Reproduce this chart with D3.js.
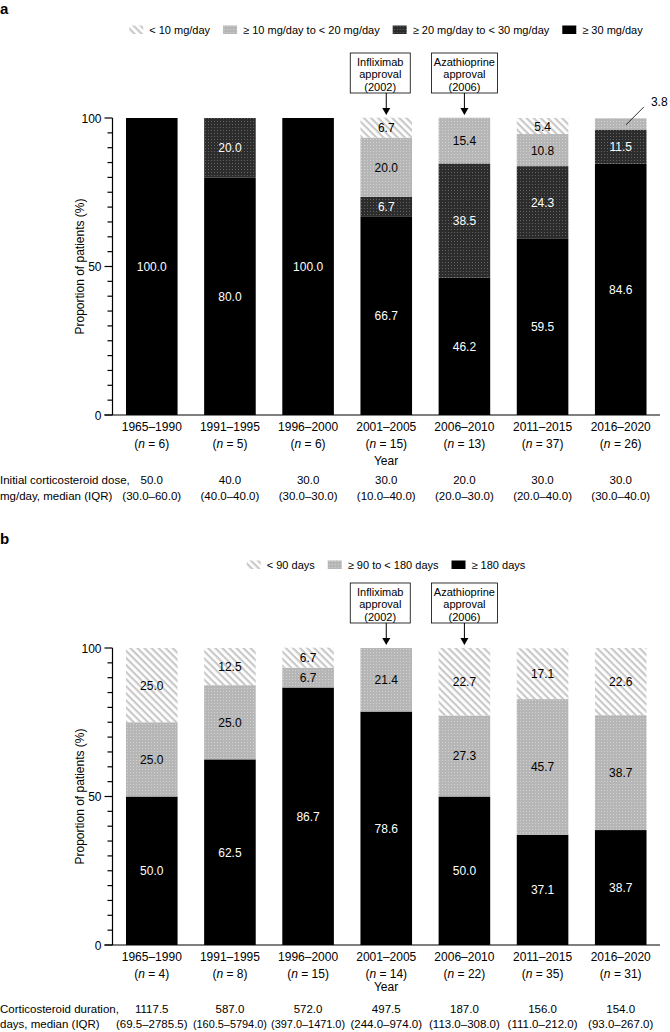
<!DOCTYPE html>
<html><head><meta charset="utf-8">
<script src="https://cdn.jsdelivr.net/npm/d3@7"></script>
<style>
html,body{margin:0;padding:0;background:#fff;}
text{font-family:"Liberation Sans",Arial,sans-serif;}
</style></head>
<body>
<svg id="chart" width="670" height="1032"></svg>
<script>
// ---------- DATA ----------
const periods = ["1965–1990","1991–1995","1996–2000","2001–2005","2006–2010","2011–2015","2016–2020"];

// Panel a
const nA = [6,5,6,15,13,37,26];
const doseLt10   = [0,0,0,6.7,0,5.4,0];
const dose10to20 = [0,0,0,20.0,15.4,10.8,3.8];
const dose20to30 = [0,20.0,0,6.7,38.5,24.3,11.5];
const doseGe30   = [100.0,80.0,100.0,66.7,46.2,59.5,84.6];
const doseSeriesNames = ["≥ 30 mg/day","≥ 20 mg/day to < 30 mg/day","≥ 10 mg/day to < 20 mg/day","< 10 mg/day"];
const doseMedian = ["50.0","40.0","30.0","30.0","20.0","30.0","30.0"];
const doseIQR = ["(30.0–60.0)","(40.0–40.0)","(30.0–30.0)","(10.0–40.0)","(20.0–30.0)","(20.0–40.0)","(30.0–40.0)"];
const doseRowLabel = ["Initial corticosteroid dose,","mg/day, median (IQR)"];

// Panel b
const nB = [4,8,15,14,22,35,31];
const durLt90    = [25.0,12.5,6.7,0,22.7,17.1,22.6];
const dur90to180 = [25.0,25.0,6.7,21.4,27.3,45.7,38.7];
const durGe180   = [50.0,62.5,86.7,78.6,50.0,37.1,38.7];
const durSeriesNames = ["≥ 180 days","≥ 90 to < 180 days","< 90 days"];
const durMedian = ["1117.5","587.0","572.0","497.5","187.0","156.0","154.0"];
const durIQR = ["(69.5–2785.5)","(160.5–5794.0)","(397.0–1471.0)","(244.0–974.0)","(113.0–308.0)","(111.0–212.0)","(93.0–267.0)"];
const durRowLabel = ["Corticosteroid duration,","days, median (IQR)"];

const yTicksMajor = [0,50,100];
const annotations = [
  {period:"2001–2005", lines:["Infliximab","approval","(2002)"]},
  {period:"2006–2010", lines:["Azathioprine","approval","(2006)"]}
];

// ---------- SETUP ----------
const svg = d3.select("#chart");
const defs = svg.append("defs");

function hatch(id){
  const p = defs.append("pattern").attr("id",id).attr("patternUnits","userSpaceOnUse")
    .attr("width",5).attr("height",5).attr("patternTransform","rotate(45)");
  p.append("rect").attr("width",5).attr("height",5).attr("fill","#ffffff");
  p.append("rect").attr("width",5).attr("height",2.2).attr("fill","#c9c9c9");
}
function dots(id,bg,fg){
  const p = defs.append("pattern").attr("id",id).attr("patternUnits","userSpaceOnUse")
    .attr("width",3).attr("height",3);
  p.append("rect").attr("width",3).attr("height",3).attr("fill",bg);
  p.append("rect").attr("x",1).attr("y",1).attr("width",1).attr("height",1).attr("fill",fg);
}
hatch("pHatch");
dots("pLight","#b6b6b6","#d2d2d2");
dots("pDark","#2c2c2c","#626262");

const fills = {hatch:"url(#pHatch)", light:"url(#pLight)", dark:"url(#pDark)", black:"#000"};

const x = d3.scaleBand().domain(periods).range([112.5,660]).paddingInner(0.34).paddingOuter(0.1725);

function fitText(sel, maxW){
  sel.each(function(){
    const w = this.getComputedTextLength();
    if (w > maxW) d3.select(this).attr("textLength",maxW).attr("lengthAdjust","spacingAndGlyphs");
  });
}

function drawPanel(cfg){
  const oy = cfg.oy;
  const g = svg.append("g");
  const y = d3.scaleLinear().domain([0,100]).range([415+oy,118+oy]);

  // panel letter
  g.append("text").attr("x",0).attr("y",14+oy).attr("font-size",15).attr("font-weight","bold").text(cfg.letter);

  // stacked bars
  const rows = periods.map((p,i)=>{ const o={period:p}; cfg.series.forEach(s=>o[s.key]=s.values[i]); return o;});
  const stack = d3.stack().keys(cfg.series.map(s=>s.key))(rows);
  stack.forEach((layer,li)=>{
    const s = cfg.series[li];
    g.append("g").selectAll("rect").data(layer.filter(d=>d[1]-d[0]>0)).join("rect")
      .attr("x",d=>x(d.data.period)).attr("width",x.bandwidth())
      .attr("y",d=>y(d[1])).attr("height",d=>y(d[0])-y(d[1]))
      .attr("fill",fills[s.fill]);
    g.append("g").selectAll("text").data(layer.filter(d=>d[1]-d[0]>=5)).join("text")
      .attr("x",d=>x(d.data.period)+x.bandwidth()/2)
      .attr("y",d=>y((d[0]+d[1])/2)+4.5)
      .attr("text-anchor","middle").attr("font-size",12)
      .attr("fill",s.textColor)
      .text(d=>(d[1]-d[0]).toFixed(1));
  });

  // small outside labels
  (cfg.outside||[]).forEach(o=>{
    const layer = stack[cfg.series.findIndex(s=>s.key===o.key)];
    const d = layer[periods.indexOf(o.period)];
    const cx = x(o.period)+x.bandwidth()*0.6, cy = y((d[0]+d[1])/2);
    g.append("line").attr("x1",cx).attr("y1",cy+1).attr("x2",cx+18).attr("y2",cy-17)
      .attr("stroke","#000").attr("stroke-width",0.8);
    g.append("text").attr("x",cx+25).attr("y",cy-18).attr("font-size",12).text((d[1]-d[0]).toFixed(1));
  });

  // y axis
  const ax = 112.5;
  g.append("line").attr("x1",ax).attr("x2",ax).attr("y1",y(0)).attr("y2",y(100)).attr("stroke","#000").attr("stroke-width",1.2);
  g.append("g").selectAll("line").data(d3.range(0,101,5)).join("line")
    .attr("x1",d=>yTicksMajor.includes(d)?ax-8:ax-5).attr("x2",ax)
    .attr("y1",d=>y(d)).attr("y2",d=>y(d)).attr("stroke","#000").attr("stroke-width",1.2);
  g.append("g").selectAll("text").data(yTicksMajor).join("text")
    .attr("x",ax-11).attr("y",d=>y(d)+4.5).attr("text-anchor","end").attr("font-size",12).text(d=>d);
  g.append("text").attr("transform",`translate(${ax-29},${y(50)}) rotate(-90)`)
    .attr("text-anchor","middle").attr("font-size",12).text("Proportion of patients (%)");

  // x axis
  g.append("line").attr("x1",ax-8).attr("x2",660).attr("y1",y(0)).attr("y2",y(0)).attr("stroke","#000").attr("stroke-width",1.2);
  const xl = g.append("g").selectAll("text").data(periods).join("text")
    .attr("x",d=>x(d)+x.bandwidth()/2).attr("text-anchor","middle").attr("font-size",12);
  xl.append("tspan").attr("x",d=>x(d)+x.bandwidth()/2).attr("y",431+oy).text(d=>d);
  const t2 = xl.append("tspan").attr("x",d=>x(d)+x.bandwidth()/2).attr("y",448+oy);
  t2.append("tspan").text("(");
  t2.append("tspan").attr("font-style","italic").text("n");
  t2.append("tspan").text((d,i)=>" = "+cfg.n[i]+")");
  g.append("text").attr("x",386).attr("y",cfg.yearY+oy).attr("text-anchor","middle").attr("font-size",12).text("Year");

  // table
  const r1 = cfg.tableY[0]+oy, r2 = cfg.tableY[1]+oy;
  g.append("text").attr("x",0).attr("y",r1).attr("font-size",11.5).text(cfg.rowLabel[0]);
  g.append("text").attr("x",0).attr("y",r2).attr("font-size",11.5).text(cfg.rowLabel[1]);
  g.append("g").selectAll("text").data(periods).join("text")
    .attr("x",d=>x(d)+x.bandwidth()/2).attr("y",r1).attr("text-anchor","middle").attr("font-size",11.5)
    .text((d,i)=>cfg.median[i]);
  g.append("g").selectAll("text").data(periods).join("text")
    .attr("x",d=>x(d)+x.bandwidth()/2).attr("y",r2).attr("text-anchor","middle").attr("font-size",11.5)
    .text((d,i)=>cfg.iqr[i])
    .call(fitText, 74);

  // legend (centered)
  const leg = g.append("g");
  let cur = 0;
  const items = cfg.series.slice().reverse();
  items.forEach((s,i)=>{
    const it = leg.append("g").attr("transform",`translate(${cur},0)`);
    it.append("rect").attr("x",0).attr("y",-8.5).attr("width",14).attr("height",8.5).attr("fill",fills[s.fill]);
    const t = it.append("text").attr("x",20).attr("y",0).attr("font-size",11).text(s.name);
    cur += 20 + t.node().getComputedTextLength() + 13;
  });
  const lw = cur - 13;
  leg.attr("transform",`translate(${386-lw/2},${cfg.legendY+oy})`);

  // annotations
  annotations.forEach((a,ai)=>{
    const cx = x(a.period)+x.bandwidth()/2;
    const bx = ai===0 ? cx-36 : cx-33, bw = ai===0 ? 60 : 66;
    g.append("rect").attr("x",bx).attr("y",53+oy).attr("width",bw).attr("height",40)
      .attr("fill","#fff").attr("stroke","#000").attr("stroke-width",0.8);
    a.lines.forEach((l,li)=>g.append("text").attr("x",bx+bw/2).attr("y",65.5+li*12.5+oy)
      .attr("text-anchor","middle").attr("font-size",11).text(l));
    g.append("line").attr("x1",cx).attr("x2",cx).attr("y1",93+oy).attr("y2",109+oy).attr("stroke","#000").attr("stroke-width",1);
    g.append("path").attr("d",`M${cx-4},${108+oy}L${cx+4},${108+oy}L${cx},${115+oy}Z`).attr("fill","#000");
  });
}

drawPanel({
  oy:0, letter:"a", n:nA, yearY:465, tableY:[484,500], legendY:34,
  series:[
    {key:"ge30", name:doseSeriesNames[0], values:doseGe30, fill:"black", textColor:"#fff"},
    {key:"20to30", name:doseSeriesNames[1], values:dose20to30, fill:"dark", textColor:"#fff"},
    {key:"10to20", name:doseSeriesNames[2], values:dose10to20, fill:"light", textColor:"#000"},
    {key:"lt10", name:doseSeriesNames[3], values:doseLt10, fill:"hatch", textColor:"#000"}
  ],
  outside:[{key:"10to20", period:"2016–2020"}],
  median:doseMedian, iqr:doseIQR, rowLabel:doseRowLabel
});

drawPanel({
  oy:530, letter:"b", n:nB, yearY:461, tableY:[483,498], legendY:39,
  series:[
    {key:"ge180", name:durSeriesNames[0], values:durGe180, fill:"black", textColor:"#fff"},
    {key:"90to180", name:durSeriesNames[1], values:dur90to180, fill:"light", textColor:"#000"},
    {key:"lt90", name:durSeriesNames[2], values:durLt90, fill:"hatch", textColor:"#000"}
  ],
  median:durMedian, iqr:durIQR, rowLabel:durRowLabel
});
</script>
</body></html>
